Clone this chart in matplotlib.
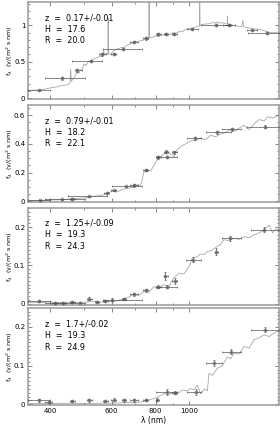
import matplotlib
matplotlib.use("Agg")
import matplotlib.pyplot as plt
import numpy as np
from matplotlib.ticker import FixedLocator, NullFormatter, MultipleLocator

# ---- panel labels
labels = [
    ("0.17+/-0.01", "17.6", "20.0"),
    ("0.79+/-0.01", "18.2", "22.1"),
    ("1.25+/-0.09", "19.3", "24.3"),
    ("1.7+/-0.02", "19.3", "24.9"),
]

# ---- template spectra (wavelength nm, flux)
spec_lam_1 = [346, 360, 374, 388, 400, 414, 427, 440, 451, 456, 458, 460, 466, 472, 477, 483, 488, 494,
              500, 507, 514, 522, 530, 538, 547, 556, 566, 569, 572, 580, 585, 586, 587, 595, 605, 614,
              628, 640, 649, 660, 672, 685, 700, 712, 724, 740, 752, 762, 766, 767, 768, 780, 795, 809,
              822, 836, 850, 864, 880, 895, 910, 922, 940, 955, 970, 985, 1000, 1015, 1030, 1045, 1060,
              1068, 1070, 1072, 1090, 1110, 1130, 1150, 1170, 1185, 1200, 1215, 1228, 1250, 1270, 1282,
              1283, 1285, 1310, 1340, 1380, 1410, 1420, 1430, 1464, 1500, 1540, 1598, 1650, 1707, 1750, 1800]
spec_f_1 = [0.105, 0.108, 0.112, 0.125, 0.14, 0.15, 0.17, 0.175, 0.19, 0.22, 0.40, 0.23, 0.27, 0.30, 0.36,
            0.34, 0.38, 0.40, 0.47, 0.45, 0.50, 0.51, 0.53, 0.55, 0.56, 0.58, 0.57, 0.66, 0.59, 0.62, 0.60,
            1.10, 0.61, 0.60, 0.64, 0.67, 0.68, 0.70, 0.69, 0.72, 0.74, 0.76, 0.78, 0.77, 0.79, 0.80, 0.82,
            0.80, 0.82, 1.40, 0.84, 0.83, 0.85, 0.86, 0.87, 0.86, 0.88, 0.88, 0.87, 0.90, 0.89, 0.90, 0.92,
            0.91, 0.94, 0.95, 0.96, 0.95, 0.97, 0.98, 0.99, 0.99, 1.40, 1.00, 1.01, 1.02, 1.02, 1.03, 1.04,
            1.03, 1.05, 1.03, 1.04, 1.03, 1.02, 1.02, 1.13, 1.02, 1.01, 1.00, 0.99, 0.98, 1.07, 0.98, 0.97,
            0.96, 0.95, 0.94, 0.92, 0.90, 0.90, 0.91]

spec_lam_2 = [347, 374, 400, 427, 444, 479, 497, 521, 556, 580, 600, 620, 649, 670, 693, 709, 724, 732,
              740, 757, 774, 792, 809, 826, 845, 864, 883, 902, 922, 943, 974, 1007, 1053, 1076, 1112,
              1149, 1188, 1228, 1269, 1311, 1355, 1385, 1432, 1480, 1530, 1581, 1634, 1671, 1727, 1800]
spec_f_2 = [0.005, 0.006, 0.008, 0.010, 0.012, 0.020, 0.022, 0.030, 0.040, 0.050, 0.070, 0.065, 0.085,
            0.090, 0.100, 0.115, 0.110, 0.140, 0.200, 0.220, 0.210, 0.250, 0.290, 0.310, 0.330, 0.350,
            0.330, 0.310, 0.360, 0.380, 0.400, 0.420, 0.430, 0.440, 0.430, 0.460, 0.450, 0.470, 0.480,
            0.500, 0.490, 0.510, 0.530, 0.500, 0.540, 0.570, 0.560, 0.590, 0.580, 0.600]

spec_lam_3 = [347, 374, 400, 427, 451, 479, 507, 538, 556, 580, 600, 620, 662, 693, 716, 740, 765, 792,
              817, 845, 873, 902, 932, 964, 996, 1018, 1053, 1076, 1100, 1125, 1163, 1201, 1228, 1254,
              1297, 1340, 1385, 1432, 1480, 1530, 1581, 1634, 1689, 1727, 1763, 1800]
spec_f_3 = [0.004, 0.003, 0.005, 0.003, 0.004, 0.003, 0.005, 0.006, 0.004, 0.007, 0.006, 0.008, 0.015,
            0.024, 0.022, 0.032, 0.030, 0.045, 0.042, 0.050, 0.045, 0.067, 0.080, 0.078, 0.097, 0.119,
            0.123, 0.130, 0.128, 0.136, 0.140, 0.150, 0.155, 0.167, 0.165, 0.171, 0.168, 0.175, 0.172,
            0.180, 0.185, 0.193, 0.205, 0.185, 0.195, 0.193]

spec_lam_4 = [347, 400, 450, 500, 550, 600, 650, 700, 724, 757, 792, 817, 845, 873, 902, 932, 953, 985,
              1007, 1030, 1053, 1076, 1105, 1125, 1137, 1163, 1201, 1242, 1283, 1311, 1340, 1385, 1432,
              1480, 1530, 1581, 1634, 1689, 1745, 1800]
spec_f_4 = [0.002, 0.002, 0.003, 0.002, 0.003, 0.003, 0.004, 0.005, 0.006, 0.010, 0.015, 0.020, 0.028,
            0.025, 0.032, 0.030, 0.037, 0.035, 0.041, 0.038, 0.050, 0.028, 0.040, 0.035, 0.080, 0.075,
            0.093, 0.100, 0.123, 0.118, 0.132, 0.130, 0.150, 0.145, 0.167, 0.172, 0.180, 0.175, 0.184,
            0.190]

# ---- photometry: centre, filter lower / upper edge, flux, flux error
phot_lam_1 = [371, 433, 479, 524, 562, 607, 644, 693, 750, 813, 858, 905, 1018, 1190, 1300, 1510, 1660]
phot_lo_1 = [346, 387, 470, 462, 552, 597, 566, 675, 738, 800, 846, 890, 985, 1080, 1250, 1460, 1470]
phot_hi_1 = [400, 504, 494, 562, 578, 617, 732, 712, 762, 830, 870, 920, 1060, 1310, 1350, 1560, 1800]
phot_f_1 = [0.105, 0.27, 0.38, 0.51, 0.60, 0.61, 0.68, 0.77, 0.82, 0.875, 0.885, 0.885, 0.95, 1.01, 1.01,
            0.935, 0.90]
phot_e_1 = [0.01, 0.02, 0.02, 0.015, 0.015, 0.015, 0.015, 0.015, 0.02, 0.015, 0.015, 0.015, 0.02, 0.015,
            0.015, 0.015, 0.015]

phot_lam_2 = [374, 433, 462, 515, 580, 607, 660, 693, 750, 813, 860, 858, 905, 1037, 1195, 1320, 1641]
phot_lo_2 = [346, 387, 455, 451, 570, 597, 600, 675, 738, 800, 800, 846, 890, 985, 1112, 1242, 1464]
phot_hi_2 = [400, 504, 470, 580, 590, 617, 732, 712, 762, 830, 922, 870, 920, 1076, 1311, 1401, 1800]
phot_f_2 = [0.005, 0.012, 0.015, 0.035, 0.056, 0.075, 0.103, 0.11, 0.22, 0.306, 0.31, 0.346, 0.34, 0.44,
            0.48, 0.503, 0.52]
phot_e_2 = [0.003, 0.003, 0.004, 0.004, 0.005, 0.005, 0.005, 0.008, 0.008, 0.01, 0.008, 0.01, 0.01, 0.01,
            0.01, 0.01, 0.01]

phot_lam_3 = [371, 413, 436, 462, 488, 518, 544, 575, 602, 649, 693, 750, 813, 854, 864, 912, 1025, 1192,
              1305, 1634]
phot_lo_3 = [346, 405, 428, 455, 387, 510, 536, 566, 566, 640, 675, 738, 800, 846, 800, 890, 975, 1180,
             1242, 1500]
phot_hi_3 = [400, 421, 444, 470, 504, 526, 552, 584, 732, 658, 712, 762, 830, 870, 922, 920, 1076, 1205,
             1401, 1800]
phot_f_3 = [0.0065, 0.002, 0.002, 0.004, 0.003, 0.013, 0.005, 0.0065, 0.011, 0.0125, 0.0255, 0.035, 0.045,
            0.073, 0.045, 0.06, 0.115, 0.136, 0.171, 0.193]
phot_e_3 = [0.003, 0.002, 0.002, 0.003, 0.002, 0.004, 0.003, 0.003, 0.003, 0.003, 0.004, 0.004, 0.004, 0.01,
            0.004, 0.008, 0.006, 0.01, 0.006, 0.006]

phot_lam_4 = [371, 396, 462, 518, 575, 607, 649, 693, 750, 809, 860, 912, 1041, 1176, 1311, 1645]
phot_lo_4 = [346, 387, 455, 510, 566, 597, 640, 675, 738, 800, 800, 890, 985, 1112, 1242, 1500]
phot_hi_4 = [400, 405, 470, 526, 584, 617, 658, 712, 762, 820, 922, 920, 1076, 1242, 1401, 1800]
phot_f_4 = [0.01, 0.006, 0.008, 0.011, 0.009, 0.0125, 0.01, 0.01, 0.011, 0.0125, 0.032, 0.03, 0.032, 0.106,
            0.136, 0.193]
phot_e_4 = [0.003, 0.003, 0.003, 0.004, 0.003, 0.003, 0.003, 0.003, 0.003, 0.004, 0.008, 0.004, 0.008,
            0.008, 0.006, 0.006]

spectra = [(spec_lam_1, spec_f_1), (spec_lam_2, spec_f_2), (spec_lam_3, spec_f_3), (spec_lam_4, spec_f_4)]
phots = [(phot_lam_1, phot_lo_1, phot_hi_1, phot_f_1, phot_e_1),
         (phot_lam_2, phot_lo_2, phot_hi_2, phot_f_2, phot_e_2),
         (phot_lam_3, phot_lo_3, phot_hi_3, phot_f_3, phot_e_3),
         (phot_lam_4, phot_lo_4, phot_hi_4, phot_f_4, phot_e_4)]
ylims = [(-0.01, 1.32), (-0.005, 0.67), (-0.002, 0.25), (-0.002, 0.248)]
ymajor = [0.5, 0.2, 0.1, 0.1]
yminor = [0.1, 0.05, 0.01, 0.01]


def ylab(v):
    if v == 0:
        return "0"
    if v == 1:
        return "1"
    return "%.1f" % v


fig = plt.figure(figsize=(2.8, 4.26), dpi=100)
bottoms = [0.768, 0.526, 0.285, 0.049]
frame = "#9a9a9a"

for i in range(4):
    ax = fig.add_axes([0.1, bottoms[i], 0.896, 0.227])
    lam, f = spectra[i]
    ax.plot(lam, f, color="#a8a8a8", lw=0.6, zorder=1)

    pl, plo, phi, pf, pe = phots[i]
    pl = np.array(pl)
    xerr = [pl - np.array(plo), np.array(phi) - pl]
    ax.errorbar(pl, pf, xerr=xerr, yerr=pe, fmt="o", ms=2.2, mfc="none", mec="#555555",
                mew=0.4, ecolor="#444444", elinewidth=0.45, capsize=0.8, capthick=0.4, zorder=3)

    ax.set_xscale("log")
    ax.set_xlim(346, 1800)
    ax.set_ylim(*ylims[i])
    ax.xaxis.set_major_locator(FixedLocator([400, 600, 800, 1000]))
    ax.xaxis.set_minor_locator(FixedLocator([500, 700, 900]))
    ax.xaxis.set_minor_formatter(NullFormatter())
    if i == 3:
        ax.set_xticklabels(["400", "600", "800", "1000"])
        ax.set_xlabel("λ (nm)", fontsize=5.5, labelpad=1.5)
    else:
        ax.set_xticklabels([])

    yt = list(np.arange(0, ylims[i][1], ymajor[i]))
    ax.set_yticks(yt)
    ax.set_yticklabels([ylab(round(v, 2)) for v in yt])
    ax.yaxis.set_minor_locator(MultipleLocator(yminor[i]))

    ax.tick_params(which="both", direction="in", top=True, right=True, labelsize=5,
                   color="#555555", width=0.5, pad=2)
    ax.tick_params(which="major", length=3)
    ax.tick_params(which="minor", length=1.6)
    for s in ax.spines.values():
        s.set_color(frame)
        s.set_linewidth(1.1)

    ax.set_ylabel("f$_\\lambda$  (γ/(m$^2$ s nm)", fontsize=4.6)
    ax.yaxis.set_label_coords(-0.052, 0.5)

    z, h, r = labels[i]
    ax.text(0.068, 0.84, "z  =  " + z, transform=ax.transAxes, fontsize=5.8, va="center")
    ax.text(0.068, 0.72, "H  =  " + h, transform=ax.transAxes, fontsize=5.8, va="center")
    ax.text(0.068, 0.60, "R  =  " + r, transform=ax.transAxes, fontsize=5.8, va="center")

fig.savefig("out.png", dpi=100)
